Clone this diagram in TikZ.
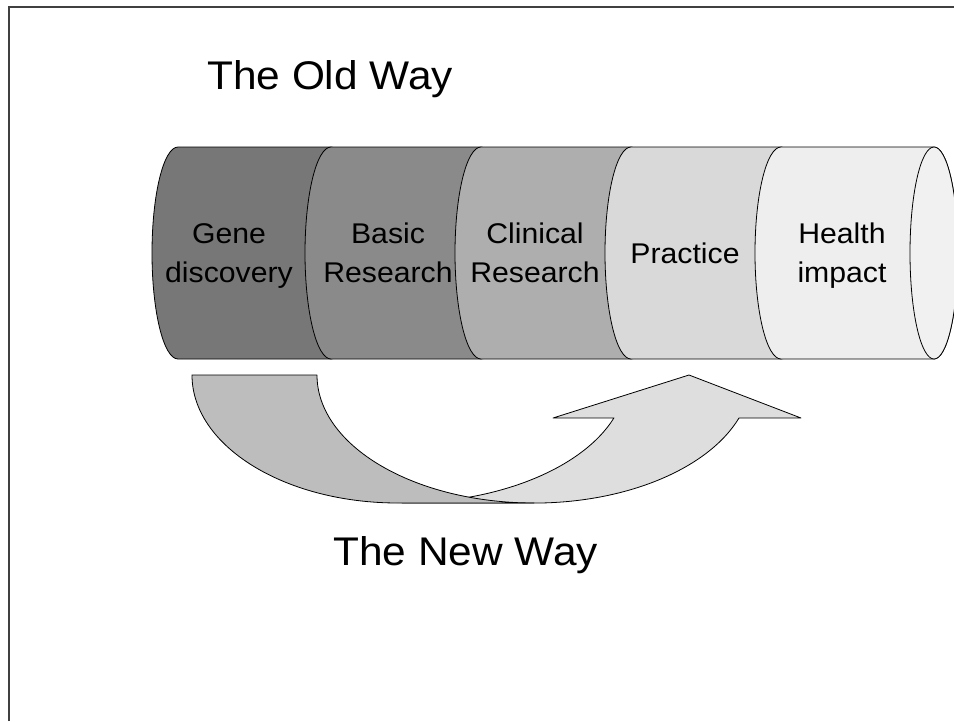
\documentclass[tikz,border=0pt]{standalone}
\usepackage{fontspec}
\setmainfont[FakeStretch=1.06]{Liberation Sans}
\definecolor{segA}{HTML}{777777}
\definecolor{segB}{HTML}{8A8A8A}
\definecolor{segC}{HTML}{AEAEAE}
\definecolor{segD}{HTML}{D9D9D9}
\definecolor{segE}{HTML}{EEEEEE}
\definecolor{segEnd}{HTML}{F1F1F1}
\definecolor{bandDark}{HTML}{BDBDBD}
\definecolor{bandLight}{HTML}{DEDEDE}
\definecolor{frameline}{HTML}{404040}
\newcommand\twolines[2]{\rule{0pt}{20pt}#1\\#2\rule[-6pt]{0pt}{6pt}}
\tikzset{
  segshape/.style={draw=black, line width=0.8pt, line join=round},
  seglabel/.style={inner sep=0pt, align=center, font=\fontsize{28.5}{39}\selectfont},
  titletext/.style={inner sep=0pt, anchor=base west, font=\fontsize{40}{45}\selectfont},
}
\begin{document}
\begin{tikzpicture}[x=1pt,y=-1pt]
\useasboundingbox (0,0) rectangle (954,721);
% frame
\draw[frameline, line width=1.6pt] (9,721) -- (9,7) -- (954,7);
% titles
\node[titletext] (oldway) at (207,89) {The Old Way};
\node[titletext] (newway) at (333,565) {The New Way};
% cylinder segments
\draw[segshape, fill=segA] (178,147) arc[start angle=270,end angle=90,x radius=26,y radius=106]
  -- (331,359) arc[start angle=90,end angle=-90,x radius=26,y radius=106] -- cycle;
\draw[segshape, fill=segB] (331,147) arc[start angle=270,end angle=90,x radius=26,y radius=106]
  -- (481,359) arc[start angle=90,end angle=-90,x radius=26,y radius=106] -- cycle;
\draw[segshape, fill=segC] (481,147) arc[start angle=270,end angle=90,x radius=26,y radius=106]
  -- (631,359) arc[start angle=90,end angle=-90,x radius=26,y radius=106] -- cycle;
\draw[segshape, fill=segD] (631,147) arc[start angle=270,end angle=90,x radius=26,y radius=106]
  -- (781,359) arc[start angle=90,end angle=-90,x radius=26,y radius=106] -- cycle;
\draw[segshape, fill=segE] (781,147) arc[start angle=270,end angle=90,x radius=26,y radius=106]
  -- (934,359) arc[start angle=90,end angle=-90,x radius=24,y radius=106] -- cycle;
\draw[segshape, fill=segEnd] (934,253) ellipse[x radius=24,y radius=106];
% labels
\node[seglabel] (gene) at (229,255.5) {\twolines{Gene}{discovery}};
\node[seglabel] (basic) at (388,255.5) {\twolines{Basic}{Research}};
\node[seglabel] (clinical) at (535,255.5) {\twolines{Clinical}{Research}};
\node[seglabel, anchor=base] (practice) at (685,263) {Practice};
\node[seglabel] (health) at (842,255.5) {\twolines{Health}{impact}};
% curved arrow: light part
\draw[segshape, fill=bandLight] (402,503) arc[start angle=90,end angle=19.6,x radius=225,y radius=128]
  -- (553,418) -- (689,375) -- (801,418) -- (739,418)
  arc[start angle=19.6,end angle=90,x radius=218,y radius=128] -- cycle;
% curved arrow: dark part
\draw[segshape, fill=bandDark] (192,375) arc[start angle=180,end angle=90,x radius=206,y radius=128]
  -- (534,503) arc[start angle=90,end angle=180,x radius=217,y radius=128] -- cycle;
\end{tikzpicture}
\end{document}
